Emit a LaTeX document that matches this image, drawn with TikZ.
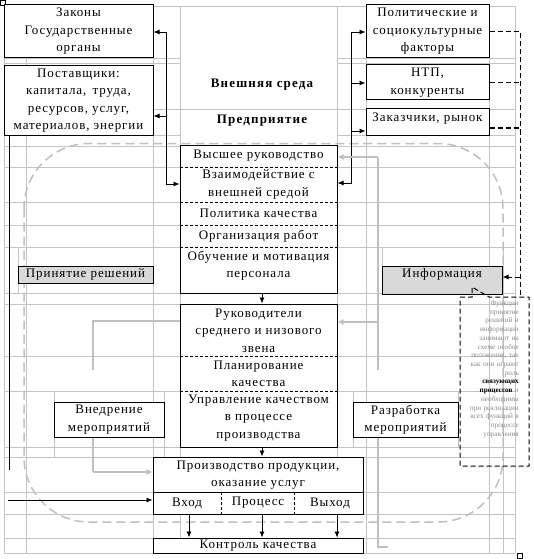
\documentclass[tikz,border=0pt]{standalone}
\usepackage{fontspec}
\setmainfont{Liberation Serif}[LetterSpace=7]
\usetikzlibrary{arrows.meta}
\definecolor{gridgray}{HTML}{C4C4C4}
\definecolor{lgray}{HTML}{C0C0C0}
\definecolor{fillgray}{HTML}{D9D9D9}
\definecolor{notegray}{HTML}{8C8C8C}
\begin{document}
\begin{tikzpicture}[x=1pt,y=-1pt,
  txt/.style={font=\fontsize{13}{17.5}\selectfont, align=center, inner sep=0pt},
  boldtxt/.style={font=\fontsize{13}{17.5}\selectfont\bfseries\addfontfeature{LetterSpace=9}, align=center, inner sep=0pt},
  box/.style={draw=black, line width=1pt, fill=white, inner sep=0pt, font=\fontsize{13}{17.5}\selectfont, align=center},
  gbox/.style={box, fill=fillgray},
  gridln/.style={draw=gridgray, line width=0.8pt},
  sepln/.style={draw=black, line width=0.8pt, dash pattern=on 3pt off 2pt},
  arr/.style={draw=black, line width=0.9pt, -{Latex[length=6pt,width=5pt]}},
  bline/.style={draw=black, line width=0.9pt},
  garr/.style={draw=lgray, line width=2pt, -{Latex[length=6pt,width=6pt]}},
  gline/.style={draw=lgray, line width=2pt},
  bdash/.style={draw=black, line width=1pt, dash pattern=on 5pt off 3pt},
]
\useasboundingbox (0,0) rectangle (534,559);
\fill[white] (0,0) rectangle (534,559);
% spreadsheet grid
\foreach \y in {146,167,202,225,247,293,304,356,391,447,457,492,514,538,553}
  \draw[gridln] (4,\y) -- (515,\y);
\draw[gridln] (4,6) -- (515,6);
\foreach \y in {58,63,135} {\draw[gridln] (4,\y) -- (180,\y); \draw[gridln] (337,\y) -- (515,\y);}
\draw[gridln] (153,109) -- (515,109);
\foreach \x in {4,26,153,180,337,366,489,515}
  \draw[gridln] (\x,6) -- (\x,553);
\draw[gridln] (18,247) -- (18,293);
\draw[gridln] (382,247) -- (382,293);
\draw[gridln] (503,247) -- (503,553);
\draw[gridln] (54,391) -- (54,457);
\draw[gridln] (164,391) -- (164,457);
\draw[gridln] (353,391) -- (353,447);
\draw[gridln] (458,391) -- (458,447);
% dashed rounded frame
\draw[draw=lgray, line width=1.5pt, dash pattern=on 9pt off 5pt, rounded corners=65pt] (24,143.5) rectangle (503,522);
% handles
\draw[black, line width=0.8pt] (0.5,0.5) rectangle (5,5);
\draw[black, line width=0.8pt] (517.5,553.5) rectangle (522.5,558.5);

% outer boxes
\node[box, minimum width=149pt, minimum height=53pt] (zakony) at (78.5,31.5) {Законы\\Государственные\\органы};
\node[box, minimum width=149pt, minimum height=69pt] (postav) at (78.5,100.5) {Поставщики:\\капитала,\, труда,\\ресурсов, услуг,\\материалов, энергии};
\node[box, minimum width=123pt, minimum height=53pt] (polit) at (427.5,31.5) {Политические и\\социокультурные\\факторы};
\node[box, minimum width=123pt, minimum height=35pt] (ntp) at (427.5,82.5) {НТП,\\конкуренты};
\node[box, minimum width=123pt, minimum height=26pt] (zakaz) at (427.5,122) {};
\node[txt] (zakaztxt) at (427.5,119) {Заказчики, рынок};

\node[boldtxt] (vneshn) at (262,85) {Внешняя среда};
\node[boldtxt] (predpr) at (262,121) {Предприятие};

% central top box
\node[box, minimum width=157pt, minimum height=148pt] (mgmt) at (258.5,219) {};
\draw[sepln] (180,167) -- (337,167);
\draw[sepln] (180,202) -- (337,202);
\draw[sepln] (180,225) -- (337,225);
\draw[sepln] (180,247) -- (337,247);
\node[txt] (m1) at (258.5,156) {Высшее руководство};
\node[txt] (m2) at (258.5,184.5) {Взаимодействие с\\внешней средой};
\node[txt] (m3) at (258.5,213.5) {Политика качества};
\node[txt] (m4) at (258.5,236) {Организация работ};
\node[txt] (m5) at (258.5,265.5) {Обучение и мотивация\\персонала};

% central middle box
\node[box, minimum width=157pt, minimum height=143pt] (mid) at (258.5,375.5) {};
\draw[sepln] (180,356) -- (337,356);
\draw[sepln] (180,391) -- (337,391);
\node[txt] (k1) at (258.5,330.5) {Руководители\\среднего и низового\\звена};
\node[txt] (k2) at (258.5,374) {Планирование\\качества};
\node[txt] (k3) at (258.5,418) {Управление качеством\\в процессе\\производства};

% production
\node[box, minimum width=210pt, minimum height=57pt] (prod) at (258,485.5) {};
\draw[bline, line width=1pt] (153,492) -- (363,492);
\draw[sepln] (221,492) -- (221,514);
\draw[sepln] (294,492) -- (294,514);
\node[txt] (p1) at (258,475) {Производство продукции,\\оказание услуг};
\node[txt] (p2) at (187,503) {Вход};
\node[txt] (p3) at (258,503) {Процесс};
\node[txt] (p4) at (330,503) {Выход};

\node[box, minimum width=210pt, minimum height=15pt] (kontrol) at (258,545.5) {Контроль качества};

% side boxes
\node[gbox, minimum width=135pt, minimum height=17pt] (prin) at (85.5,274.5) {Принятие решений};
\node[gbox, minimum width=120pt, minimum height=28pt] (info) at (442,280) {};
\node[txt] (infotxt) at (442,274) {Информация};
\node[box, minimum width=110pt, minimum height=35pt] (vnedr) at (109,419.5) {Внедрение\\мероприятий};
\node[box, minimum width=105pt, minimum height=35pt] (razrab) at (405.5,419.5) {Разработка\\мероприятий};

% black connectors left
\coordinate (lv1) at (166,32);
\coordinate (lv2) at (166,184);
\coordinate (lv3) at (166,116);
\draw[arr] (lv1) -- (zakony.east |- lv1);
\draw[arr] (lv1) -- (lv2) -- (mgmt.west |- lv2);
\draw[arr] (lv3) -- (postav.east |- lv3);
% black connectors right
\coordinate (rv1) at (351,32);
\coordinate (rv2) at (351,183);
\coordinate (rv3) at (351,83);
\coordinate (rv4) at (351,131);
\draw[arr] (rv1) -- (polit.west |- rv1);
\draw[arr] (rv1) -- (rv2) -- (mgmt.east |- rv2);
\draw[arr] (rv3) -- (ntp.west |- rv3);
\draw[arr] (rv4) -- (zakaz.west |- rv4);
% central flow
\coordinate (cx) at (262,0);
\draw[arr] (mgmt.south -| cx) -- (mid.north -| cx);
\draw[arr] (mid.south -| cx) -- (prod.north -| cx);
\coordinate (bx1) at (189,0);
\coordinate (bx3) at (337,0);
\draw[arr] (prod.south -| bx1) -- (kontrol.north -| bx1);
\draw[arr] (prod.south -| cx) -- (kontrol.north -| cx);
\draw[arr] (prod.south -| bx3) -- (kontrol.north -| bx3);
% left black line and input
\coordinate (lb1) at (9,135);
\coordinate (lb2) at (9,470);
\draw[bline] (lb1) -- (lb2);
\coordinate (in1) at (8,500);
\draw[arr] (in1) -- (prod.west |- in1);

% gray connectors
\coordinate (g1) at (378,157);
\coordinate (g2) at (378,370);
\coordinate (g3) at (378,322);
\coordinate (g4) at (378,547);
\coordinate (g5) at (388,547);
\draw[gline] (g1) -- (g2);
\draw[garr] (g1) -- (mgmt.east |- g1);
\draw[garr] (g3) -- (mid.east |- g3);
\draw[gline] (razrab.south -| g1) -- (g4) -- (g5);
\coordinate (g6) at (93,370);
\coordinate (g7) at (93,321);
\coordinate (g8) at (93,472);
\draw[gline] (g6) -- (g7) -- (mid.west |- g7);
\draw[gline] (vnedr.south -| g8) -- (g8);
\draw[garr] (g8) -- (prod.west |- g8);

% black dashed right
\coordinate (d1) at (520,32);
\coordinate (d2) at (520,83);
\coordinate (d3) at (520,128);
\coordinate (d4) at (520,277);
\coordinate (d5) at (520,297);
\draw[bdash] (polit.east |- d1) -- (d1) -- (d5);
\draw[bdash] (ntp.east |- d2) -- (d2);
\draw[bdash] (zakaz.east |- d3) -- (d3);
\draw[bdash, -{Latex[length=6pt,width=5pt]}] (d4) -- (info.east |- d4);

% note callout
\draw[bdash] (460,297) -- (472,297) -- (472,287) -- (489,297) -- (529,297) -- (529,466) -- (460,466) -- cycle;
\node[font=\fontsize{7.2}{8.73}\selectfont\addfontfeature{LetterSpace=0}, text=notegray, align=right, text width=58pt, inner sep=0pt, anchor=north east] (notetxt) at (519,300.5)
 {Функции\\принятие\\решений и\\информации\\занимают на\\схеме особое\\положение, так\\как они играют\\роль\\{\color{black}\bfseries связующих}\\{\color{black}\bfseries процессов} и\\необходимы\\при реализации\\всех функций в\\процессе\\управления};
\end{tikzpicture}
\end{document}
